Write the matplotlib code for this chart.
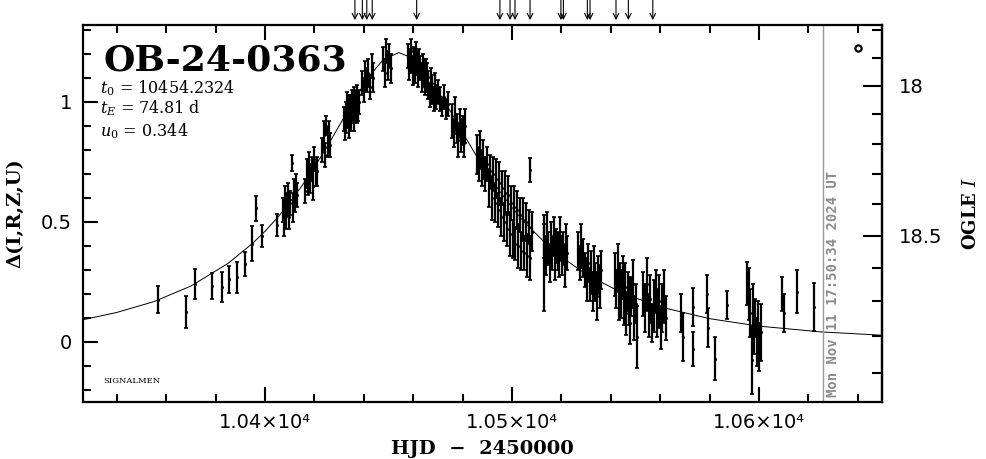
import numpy as np
import matplotlib
matplotlib.use('Agg')
import matplotlib.pyplot as plt
from matplotlib.ticker import MultipleLocator, FixedLocator, FuncFormatter

# Observations: HJD - 2450000, Delta mag, error
hjd = [
    10356.7, 10367.9, 10371.7, 10378.7, 10382.5, 10385.5, 10388.5, 10391.9, 10394.6, 10396.4, 10398.7, 10404.7,
    # rise
    10407.4, 10407.8, 10408.2, 10408.6, 10409.0, 10409.4, 10409.9, 10410.3, 10410.8, 10411.2, 10411.7, 10412.1, 10412.6, 10413.0,
    10416.3, 10416.8, 10417.3, 10417.9, 10418.4, 10419.0, 10419.5, 10420.0, 10420.6, 10421.1,
    10423.2, 10423.7, 10424.2, 10424.8, 10425.3, 10425.8, 10426.3,
    10432.0, 10432.3, 10432.6, 10432.9, 10433.2, 10433.5, 10433.8, 10434.1, 10434.4, 10434.7, 10435.0,
    10435.3, 10435.6, 10435.9, 10436.2, 10436.5, 10436.8, 10437.1, 10437.4, 10437.7, 10438.0,
    10439.4, 10440.0, 10440.6, 10441.2, 10441.8, 10442.5, 10443.2, 10443.9,
    10447.9, 10448.5, 10449.1, 10449.7, 10450.3, 10450.9,
    # peak
    10458.0, 10458.4, 10458.9, 10459.3, 10459.8, 10460.2, 10460.7, 10461.1, 10461.6, 10462.0, 10462.5, 10462.9,
    10463.4, 10463.8, 10464.3, 10464.7, 10465.2, 10465.6,
    10466.1, 10466.6, 10467.2, 10467.7, 10468.3, 10468.8, 10469.4, 10469.9,
    10471.0, 10471.8, 10472.5, 10473.3, 10474.0,
    10475.8, 10476.4, 10477.0, 10477.6, 10478.2, 10478.8, 10479.4, 10480.0, 10480.5, 10481.0,
    # decline
    10485.9, 10486.5, 10487.1, 10487.7, 10488.3, 10488.9,
    10490.0, 10490.6, 10491.2, 10491.8, 10492.4, 10493.0, 10493.6, 10494.2, 10494.8, 10495.4, 10496.0,
    10496.6, 10497.2, 10497.8, 10498.4, 10499.0, 10499.6, 10500.2, 10500.8, 10501.4, 10502.0, 10502.6,
    10503.2, 10503.8, 10504.4, 10505.0, 10505.6, 10506.2, 10506.8, 10507.4, 10508.0, 10507.3,
    10512.8, 10513.0, 10513.6, 10514.1, 10514.7, 10515.2, 10515.8, 10516.3, 10516.9, 10517.4, 10518.0,
    10518.5, 10519.1, 10519.6, 10520.2, 10520.7, 10521.3, 10521.8, 10522.2,
    10526.8, 10527.4, 10528.0, 10528.6, 10529.6, 10530.2, 10530.8, 10531.4, 10532.0, 10532.6, 10533.2,
    10533.8, 10534.4, 10535.0, 10535.6, 10536.2,
    10541.8, 10542.3, 10542.8, 10543.3, 10543.8, 10544.3, 10544.8, 10545.3, 10545.8, 10546.3, 10546.8,
    10547.3, 10547.8, 10548.3, 10548.8, 10549.4, 10550.0, 10550.6,
    10553.2, 10553.9, 10554.6, 10555.3, 10556.0, 10556.7, 10557.4, 10558.1, 10558.8, 10559.5, 10560.2,
    10560.9, 10561.6, 10562.4,
    # tail
    10568.6, 10569.4, 10573.3, 10573.3, 10578.9, 10579.4, 10582.2, 10587.0, 10595.1,
    10596.0, 10596.5, 10597.0, 10597.5, 10598.0, 10598.5, 10599.0, 10599.6, 10600.2, 10600.8,
    10609.5, 10610.3, 10615.4, 10622.3,
]
delta = [
    0.175, 0.125, 0.240, 0.232, 0.230, 0.262, 0.270, 0.326, 0.410, 0.557, 0.442, 0.488,
    0.55, 0.50, 0.60, 0.53, 0.57, 0.62, 0.52, 0.58, 0.745, 0.56, 0.63, 0.59, 0.66, 0.61,
    0.63, 0.70, 0.66, 0.74, 0.68, 0.72, 0.65, 0.76, 0.70, 0.71,
    0.80, 0.86, 0.78, 0.90, 0.83, 0.87, 0.82,
    0.93, 0.90, 0.96, 0.92, 0.98, 0.94, 0.91, 0.99, 0.95, 0.97, 0.93,
    1.00, 0.96, 0.94, 1.01, 0.97, 0.99, 0.95, 1.02, 0.98, 1.00,
    1.08, 1.05, 1.11, 1.09, 1.12, 1.06, 1.15, 1.10,
    1.18, 1.12, 1.21, 1.15, 1.19, 1.14,
    1.19, 1.15, 1.21, 1.17, 1.13, 1.18, 1.14, 1.20, 1.16, 1.12, 1.17, 1.14,
    1.10, 1.15, 1.12, 1.08, 1.13, 1.10,
    1.07, 1.03, 1.09, 1.05, 1.01, 1.06, 1.02, 1.04,
    1.01, 0.98, 1.02, 0.97, 0.99,
    0.92, 0.87, 0.95, 0.89, 0.84, 0.91, 0.86, 0.88, 0.83, 0.90,
    0.78, 0.74, 0.80, 0.72, 0.76, 0.70,
    0.74, 0.64, 0.71, 0.60, 0.70, 0.58, 0.68, 0.55, 0.66, 0.52, 0.64,
    0.50, 0.62, 0.47, 0.61, 0.45, 0.58, 0.43, 0.56, 0.41, 0.55, 0.40,
    0.53, 0.38, 0.51, 0.37, 0.50, 0.36, 0.48, 0.35, 0.46, 0.717,
    0.33, 0.42, 0.36, 0.45, 0.39, 0.33, 0.41, 0.37, 0.44, 0.35, 0.40,
    0.38, 0.34, 0.43, 0.36, 0.39, 0.32, 0.41, 0.37,
    0.38, 0.33, 0.40, 0.35, 0.30, 0.26, 0.33, 0.24, 0.29, 0.21, 0.31,
    0.25, 0.19, 0.28, 0.23, 0.30,
    0.28, 0.22, 0.31, 0.18, 0.25, 0.20, 0.27, 0.15, 0.23, 0.12, 0.21,
    0.17, 0.08, 0.19, 0.24, 0.10, 0.16, 0.02,
    0.20, 0.14, 0.24, 0.11, 0.18, 0.08, 0.15, 0.21, 0.12, 0.17, 0.06,
    0.14, 0.19, 0.10,
    0.12, 0.02, 0.146, -0.03, 0.20, 0.06, -0.07, 0.154, 0.245,
    0.20, 0.12, -0.075, 0.15, 0.05, 0.10, 0.00, 0.08, -0.02, 0.04,
    0.20, 0.12, 0.21, 0.146,
]
err = [
    0.056, 0.068, 0.062, 0.054, 0.062, 0.056, 0.065, 0.050, 0.074, 0.052, 0.045, 0.045,
    0.05, 0.06, 0.05, 0.06, 0.05, 0.04, 0.05, 0.05, 0.035, 0.06, 0.05, 0.05, 0.04, 0.05,
    0.05, 0.06, 0.05, 0.05, 0.06, 0.05, 0.06, 0.05, 0.05, 0.06,
    0.05, 0.06, 0.05, 0.04, 0.06, 0.05, 0.05,
    0.05, 0.06, 0.04, 0.05, 0.06, 0.05, 0.06, 0.04, 0.05, 0.06, 0.05,
    0.05, 0.04, 0.06, 0.05, 0.05, 0.06, 0.04, 0.05, 0.06, 0.05,
    0.05, 0.05, 0.06, 0.05, 0.06, 0.05, 0.05, 0.06,
    0.05, 0.06, 0.05, 0.06, 0.05, 0.06,
    0.05, 0.06, 0.05, 0.05, 0.06, 0.05, 0.06, 0.05, 0.05, 0.06, 0.05, 0.05,
    0.06, 0.05, 0.06, 0.05, 0.05, 0.06,
    0.06, 0.05, 0.05, 0.06, 0.05, 0.06, 0.05, 0.05,
    0.05, 0.04, 0.05, 0.04, 0.05,
    0.07, 0.06, 0.07, 0.06, 0.07, 0.06, 0.07, 0.06, 0.06, 0.07,
    0.08, 0.07, 0.08, 0.07, 0.08, 0.07,
    0.07, 0.08, 0.07, 0.09, 0.07, 0.08, 0.08, 0.07, 0.09, 0.08, 0.07,
    0.08, 0.09, 0.07, 0.08, 0.09, 0.07, 0.08, 0.09, 0.07, 0.08, 0.09,
    0.07, 0.08, 0.09, 0.07, 0.08, 0.09, 0.07, 0.09, 0.08, 0.05,
    0.20, 0.07, 0.08, 0.09, 0.07, 0.08, 0.09, 0.07, 0.08, 0.09, 0.07,
    0.08, 0.07, 0.09, 0.08, 0.07, 0.09, 0.08, 0.07,
    0.08, 0.07, 0.09, 0.08, 0.07, 0.09, 0.08, 0.07, 0.09, 0.08, 0.09,
    0.08, 0.10, 0.08, 0.09, 0.08,
    0.09, 0.08, 0.10, 0.09, 0.08, 0.10, 0.09, 0.08, 0.10, 0.09, 0.08,
    0.10, 0.09, 0.08, 0.10, 0.09, 0.08, 0.13,
    0.09, 0.10, 0.11, 0.09, 0.10, 0.08, 0.11, 0.09, 0.10, 0.11, 0.09,
    0.10, 0.11, 0.09,
    0.08, 0.10, 0.08, 0.07, 0.08, 0.08, 0.09, 0.06, 0.09,
    0.11, 0.10, 0.14, 0.09, 0.10, 0.08, 0.10, 0.09, 0.10, 0.12,
    0.07, 0.08, 0.09, 0.10,
]

# PSPL model curve
model_t = [10326, 10340, 10355, 10370, 10385, 10395, 10400, 10405, 10410, 10415, 10420, 10425, 10430,
           10435, 10442, 10448, 10454.2, 10460, 10466, 10475, 10480, 10485, 10490, 10495, 10500,
           10505, 10515, 10520, 10530, 10545, 10560, 10580, 10600, 10625, 10650]
model_d = [0.092, 0.123, 0.168, 0.233, 0.327, 0.411, 0.461, 0.517, 0.581, 0.651, 0.728, 0.811, 0.900,
           0.989, 1.105, 1.177, 1.205, 1.181, 1.112, 0.962, 0.872, 0.785, 0.703, 0.628, 0.560,
           0.499, 0.397, 0.354, 0.282, 0.202, 0.146, 0.097, 0.066, 0.042, 0.028]

# epochs marked with arrows on top
arrow_t = [10436.4, 10439.4, 10441.2, 10443.4, 10461.4, 10495.1, 10499.2, 10501.2, 10507.3,
           10519.8, 10520.8, 10530.5, 10531.6, 10542.1, 10547.1, 10557.0]

now_t = 10625.9
I_base, f_s = 18.816, 0.67


def to_mag(d):
    d = np.asarray(d, dtype=float)
    arg = 1 + f_s * (10 ** (d / 2.5) - 1)
    return I_base - 2.5 * np.log10(np.clip(arg, 1e-6, None))


def to_delta(m):
    m = np.asarray(m, dtype=float)
    arg = 1 + (10 ** ((I_base - m) / 2.5) - 1) / f_s
    return 2.5 * np.log10(np.clip(arg, 1e-6, None))


plt.rcParams['mathtext.fontset'] = 'dejavuserif'

fig = plt.figure(figsize=(9.86, 4.59), dpi=100)
ax = fig.add_axes([83 / 986, 1 - 402 / 459, 799 / 986, 377 / 459])

ax.plot(model_t, model_d, color='k', lw=0.7)
ax.errorbar(hjd, delta, yerr=err, fmt='.', ms=2.5, color='k', ecolor='k',
            elinewidth=1.6, capsize=1.5, capthick=1.2)

ax.set_xlim(10326.3, 10649.8)
ax.set_ylim(-0.25, 1.32)

ax.xaxis.set_major_locator(MultipleLocator(100))
ax.xaxis.set_minor_locator(MultipleLocator(20))
ax.xaxis.set_major_formatter(FuncFormatter(lambda v, p: '%.2f×10⁴' % (v / 1e4)))
ax.yaxis.set_major_locator(MultipleLocator(0.5))
ax.yaxis.set_minor_locator(MultipleLocator(0.1))
ax.yaxis.set_major_formatter(FuncFormatter(lambda v, p: '%g' % round(v, 2)))

ax.tick_params(which='both', direction='in', top=True, right=False, width=1.5,
               labelsize=14, pad=8)
ax.tick_params(which='major', length=11)
ax.tick_params(which='minor', length=6)
for s in ax.spines.values():
    s.set_linewidth(1.6)

sec = ax.secondary_yaxis('right', functions=(to_mag, to_delta))
sec.yaxis.set_major_locator(FixedLocator([18.0, 18.5]))
sec.yaxis.set_minor_locator(FixedLocator([17.8, 17.9, 18.1, 18.2, 18.3, 18.4, 18.6, 18.7, 18.8, 18.9, 19.0]))
sec.yaxis.set_major_formatter(FuncFormatter(lambda v, p: '%g' % round(v, 2)))
sec.tick_params(which='both', direction='in', width=1.5, labelsize=14, pad=12)
sec.tick_params(which='major', length=14)
sec.tick_params(which='minor', length=7)
sec.spines['right'].set_linewidth(1.6)
sec.set_ylabel('OGLE $I$', fontsize=13, fontweight='bold', family='DejaVu Serif', labelpad=14)

ax.set_xlabel('HJD  −  2450000', fontsize=14, fontweight='bold', family='DejaVu Serif', labelpad=6)
ax.set_ylabel('Δ(I,R,Z,U)', fontsize=14, fontweight='bold', family='DejaVu Serif', labelpad=12)

# current time marker
ax.axvline(now_t, color='#9a9a9a', lw=1.0)
ax.text(10629.8, 0.012, 'Mon Nov 11 17:50:34 2024 UT', rotation=90, ha='center', va='bottom',
        color='#8c8c8c', fontsize=10, fontweight='bold', family='DejaVu Sans Mono',
        transform=ax.get_xaxis_transform())

for t in arrow_t:
    ax.annotate('', xy=(t, 1.013), xytext=(t, 1.066), xycoords=ax.get_xaxis_transform(),
                arrowprops=dict(arrowstyle='->', lw=0.8, color='k', shrinkA=0, shrinkB=0),
                annotation_clip=False)

ax.text(0.026, 0.88, 'OB-24-0363', transform=ax.transAxes, fontsize=26, fontweight='bold',
        family='DejaVu Serif', va='baseline')
ax.text(0.021, 0.82, '$t_0$ = 10454.2324', transform=ax.transAxes, fontsize=11.5,
        family='DejaVu Serif', va='baseline')
ax.text(0.021, 0.765, '$t_E$ = 74.81 d', transform=ax.transAxes, fontsize=11.5,
        family='DejaVu Serif', va='baseline')
ax.text(0.021, 0.705, '$u_0$ = 0.344', transform=ax.transAxes, fontsize=11.5,
        family='DejaVu Serif', va='baseline')
ax.text(0.025, 0.05, 'SIGNALMEN', transform=ax.transAxes, fontsize=6,
        family='DejaVu Serif', va='baseline')
ax.plot([0.97], [0.939], 'o', ms=4.5, mfc='white', mec='k', mew=1.6, transform=ax.transAxes)

fig.savefig('out.png', dpi=100)
